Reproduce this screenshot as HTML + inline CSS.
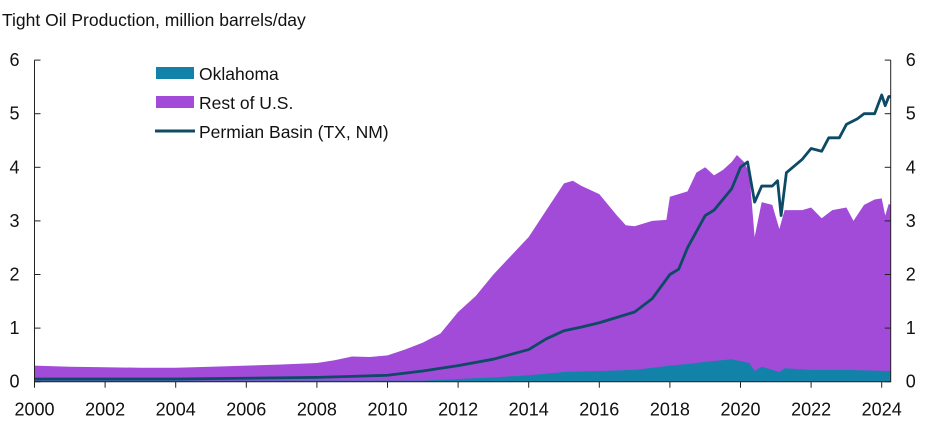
<!DOCTYPE html>
<html><head><meta charset="utf-8"><style>
body{margin:0;background:#fff;font-family:"Liberation Sans",Carlito,sans-serif}
svg text{font-family:"Liberation Sans",sans-serif;fill:#111}
</style></head><body>
<svg id="chart" width="925" height="426" viewBox="0 0 925 426" xmlns="http://www.w3.org/2000/svg">
<text x="2" y="26" font-size="17.5">Tight Oil Production, million barrels/day</text>
<g id="areas"></g><g id="lines"></g><g id="axes"></g>
<g>
<rect x="156" y="67" width="38" height="12" fill="#1282a8"/>
<text x="199" y="80" font-size="17.5">Oklahoma</text>
<rect x="156" y="96" width="38" height="12" fill="#a24bd8"/>
<text x="199" y="109" font-size="17.5">Rest of U.S.</text>
<line x1="155" y1="131" x2="195" y2="131" stroke="#0d4a66" stroke-width="3"/>
<text x="199" y="138" font-size="17.5">Permian Basin (TX, NM)</text>
</g>
</svg>
<script>
const xTicks=[2000,2002,2004,2006,2008,2010,2012,2014,2016,2018,2020,2022,2024];
const yTicks=[0,1,2,3,4,5,6];
const totalDates=[2000,2001,2002,2003,2004,2005,2006,2007,2008,2008.5,2009,2009.5,2010,2010.5,2011,2011.5,2012,2012.5,2013,2013.5,2014,2014.5,2015,2015.25,2015.5,2016,2016.5,2016.75,2017,2017.5,2017.9,2018,2018.5,2018.75,2019,2019.25,2019.5,2019.75,2019.9,2020.1,2020.25,2020.4,2020.6,2020.9,2021.1,2021.25,2021.75,2022,2022.3,2022.6,2023,2023.2,2023.5,2023.8,2024,2024.1,2024.2,2024.25];
const restOfUSTop=[0.3,0.28,0.27,0.26,0.26,0.28,0.3,0.32,0.35,0.4,0.47,0.46,0.49,0.6,0.73,0.9,1.3,1.6,2.0,2.35,2.7,3.2,3.7,3.75,3.65,3.5,3.1,2.92,2.9,3.0,3.02,3.45,3.55,3.9,4.0,3.85,3.95,4.1,4.23,4.1,3.9,2.7,3.35,3.3,2.85,3.2,3.2,3.25,3.05,3.2,3.25,3.0,3.3,3.4,3.42,3.1,3.32,3.3];
const okDates=[2000,2011,2012,2013,2014,2015,2016,2017,2018,2018.5,2019,2019.75,2020.25,2020.4,2020.6,2021.1,2021.25,2022,2023,2024.25];
const oklahoma=[0.02,0.02,0.05,0.08,0.12,0.18,0.2,0.22,0.3,0.33,0.37,0.42,0.35,0.2,0.28,0.18,0.25,0.22,0.22,0.2];
const permDates=[2000,2004,2008,2009,2010,2011,2012,2013,2014,2014.5,2015,2015.5,2016,2016.5,2017,2017.5,2018,2018.25,2018.5,2019,2019.25,2019.75,2020,2020.2,2020.4,2020.6,2020.9,2021.05,2021.15,2021.3,2021.75,2022,2022.3,2022.5,2022.8,2023,2023.3,2023.5,2023.8,2024,2024.1,2024.2,2024.25];
const permian=[0.05,0.05,0.08,0.1,0.12,0.2,0.3,0.42,0.6,0.8,0.95,1.02,1.1,1.2,1.3,1.55,2.0,2.1,2.5,3.1,3.2,3.6,4.0,4.1,3.35,3.65,3.65,3.75,3.1,3.9,4.15,4.35,4.3,4.55,4.55,4.8,4.9,5.0,5.0,5.35,5.15,5.32,5.32];

const X0=34.5,X1=890.7,Y0=381.7,PX=35.3,PY=53.6;
const xs=d=>X0+(d-2000)*PX, ys=v=>Y0-v*PY;
const NS="http://www.w3.org/2000/svg";
function mk(t,a,p){const e=document.createElementNS(NS,t);for(const k in a)e.setAttribute(k,a[k]);p.appendChild(e);return e;}
const areas=document.getElementById('areas'),lines=document.getElementById('lines'),axes=document.getElementById('axes');
function areaPath(ds,vs){let d='M'+xs(ds[0])+','+Y0;ds.forEach((t,i)=>d+='L'+xs(t)+','+ys(vs[i]));return d+'L'+xs(ds[ds.length-1])+','+Y0+'Z';}
const rest=mk('path',{d:areaPath(totalDates,restOfUSTop),fill:'#a24bd8'},areas);


const ok=mk('path',{d:areaPath(okDates,oklahoma),fill:'#1282a8'},areas);


const pl=mk('polyline',{points:permDates.map((t,i)=>xs(t)+','+ys(permian[i])).join(' '),fill:'none',stroke:'#0d4a66','stroke-width':2.8,'stroke-linejoin':'round'},lines);


const ax=mk('path',{d:`M${X0},${ys(6)}V${Y0}H${X1}V${ys(6)}`,fill:'none',stroke:'#222','stroke-width':1},axes);


yTicks.forEach(v=>{
  mk('line',{x1:X0,x2:X0+6,y1:ys(v),y2:ys(v),stroke:'#222'},axes);
  mk('line',{x1:X1-6,x2:X1,y1:ys(v),y2:ys(v),stroke:'#222'},axes);
  const l=mk('text',{x:X0-20,y:ys(v)+6,'font-size':18,'text-anchor':'middle'},axes);l.textContent=v;
  
  
  const r=mk('text',{x:X1+20,y:ys(v)+6,'font-size':18,'text-anchor':'middle'},axes);r.textContent=v;
  
  
});
xTicks.forEach(t=>{
  mk('line',{x1:xs(t),x2:xs(t),y1:Y0,y2:Y0+6,stroke:'#222'},axes);
  const l=mk('text',{x:xs(t),y:Y0+34,'font-size':18,'text-anchor':'middle'},axes);l.textContent=t;
  
  
});
</script>
</body></html>
